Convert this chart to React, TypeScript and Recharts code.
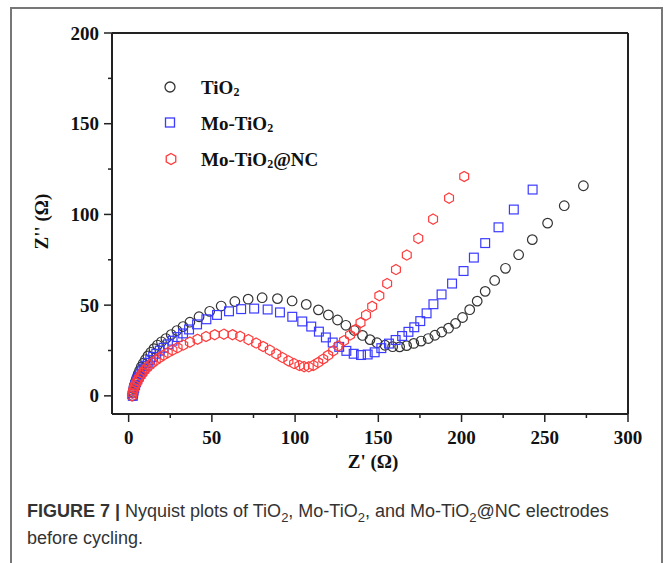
import { ScatterChart, Scatter, XAxis, YAxis, ReferenceLine } from "recharts";

// Nyquist data (Z' and Z'' in ohm)
const tio2Re = [
  2.5, 2.7, 3.1, 3.6, 4.2, 4.9, 5.7, 6.6, 7.6, 8.8, 10.1, 11.6, 13.3, 15.2,
  17.3, 19.7, 22.4, 25.6, 29.0, 32.7, 36.8, 42.3, 48.7, 55.6, 63.8, 71.8, 80.2,
  89.4, 98.2, 106.7, 114.0, 120.0, 125.5, 130.5, 135.6, 140.5, 145.0, 149.2,
  154.0, 158.6, 162.8, 167.0, 171.3, 175.7, 180.0, 184.0, 188.1, 192.2, 196.4,
  200.6, 204.9, 209.4, 214.2, 219.9, 226.4, 234.3, 242.5, 251.7, 261.7, 273.2,
];
const tio2Im = [
  0, 2, 4, 6, 8, 10, 12, 14, 16, 18, 20, 22, 24, 26, 28, 29.8, 31.6, 33.8, 36.0,
  38.2, 40.6, 43.6, 46.6, 49.5, 52.0, 53.3, 54.1, 53.6, 52.3, 50.4, 47.4, 44.6,
  41.8, 38.9, 36.0, 33.3, 31.0, 29.3, 27.9, 27.1, 27.0, 27.7, 28.9, 30.2, 31.6,
  33.4, 35.2, 37.3, 39.9, 43.2, 47.5, 52.2, 57.6, 63.6, 70.3, 77.8, 86.1, 95.2,
  104.8, 115.8,
];

const moRe = [
  2.5, 2.7, 3.0, 3.4, 3.9, 4.5, 5.2, 6.0, 6.9, 7.9, 9.0, 10.2, 11.5, 13.0, 14.7,
  16.6, 18.7, 21.0, 23.6, 26.4, 29.4, 32.7, 36.3, 41.1, 46.7, 53.1, 60.3, 67.6,
  75.4, 83.5, 90.9, 98.3, 104.3, 109.7, 114.3, 118.5, 122.6, 126.5, 130.8,
  135.2, 139.6, 143.6, 147.8, 151.8, 156.4, 160.4, 164.3, 168.1, 171.6, 175.2,
  179.0, 183.1, 188.0, 194.3, 201.2, 207.4, 214.2, 222.2, 231.4, 242.7,
];
const moIm = [
  0, 1.5, 3, 4.5, 6, 7.5, 9, 10.5, 12, 13.5, 15, 16.6, 18.2, 19.8, 21.5, 23.2,
  24.9, 26.5, 28.4, 30.4, 32.4, 34.4, 36.6, 39.4, 42.2, 44.6, 46.6, 47.8, 48.1,
  47.6, 46.0, 43.6, 41.0, 38.2, 35.4, 32.2, 29.4, 27.0, 24.8, 23.2, 22.5, 22.8,
  24.0, 26.3, 28.8, 30.8, 33.0, 35.3, 37.8, 41.2, 45.5, 50.5, 55.9, 61.9, 68.8,
  76.2, 84.2, 92.9, 102.7, 113.7,
];

const ncRe = [
  2.0, 2.3, 2.7, 3.2, 3.8, 4.5, 5.3, 6.2, 7.2, 8.3, 9.5, 10.9, 12.5, 14.3, 16.3,
  18.5, 20.9, 23.5, 26.3, 29.4, 32.8, 36.8, 41.4, 46.5, 51.7, 57.2, 62.4, 67.0,
  72.0, 76.6, 80.8, 84.8, 88.7, 92.4, 96.0, 99.4, 102.6, 105.4, 108.2, 111.0,
  113.9, 116.9, 119.9, 122.9, 126.0, 129.4, 133.0, 136.4, 139.3, 142.6, 146.3,
  150.6, 155.3, 160.6, 167.1, 174.0, 182.9, 192.5, 201.6,
];
const ncIm = [
  0, 1.4, 2.8, 4.2, 5.6, 7, 8.4, 9.8, 11.2, 12.6, 14, 15.4, 16.8, 18.2, 19.6, 21,
  22.4, 23.8, 25.2, 26.6, 28.0, 29.6, 31.2, 32.7, 33.7, 34.0, 33.7, 32.8, 31.0,
  29.1, 27.2, 25.2, 23.1, 21.1, 19.3, 17.8, 16.7, 16.1, 16.0, 16.8, 18.4, 20.3,
  22.4, 24.8, 27.5, 30.4, 33.5, 36.6, 40.3, 44.5, 49.3, 55.2, 61.9, 69.6, 77.6,
  86.8, 97.4, 109.0, 120.9,
];

const xTicks = [0, 25, 50, 75, 100, 125, 150, 175, 200, 225, 250, 275, 300];
const yTicks = [0, 25, 50, 75, 100, 125, 150, 175, 200];

const toPoints = (re: number[], im: number[]) =>
  re.map((x, i) => ({ x, y: im[i] }));

const SERIF = '"Liberation Serif", "Times New Roman", serif';
const SANS = '"Liberation Sans", Arial, sans-serif';
const AXIS = "#222";
const BLACK = "#333";
const BLUE = "#3b3bff";
const RED = "#ff3b3b";

function hexPath(cx: number, cy: number, r: number) {
  const pts = [-90, -30, 30, 90, 150, 210].map((a) => {
    const t = (a * Math.PI) / 180;
    return `${(cx + r * Math.cos(t)).toFixed(2)},${(cy + r * Math.sin(t)).toFixed(2)}`;
  });
  return `M${pts.join("L")}Z`;
}

function CircleMark({ cx, cy }: any) {
  return <circle cx={cx} cy={cy} r={4.8} fill="none" stroke={BLACK} strokeWidth={1.2} />;
}

function SquareMark({ cx, cy }: any) {
  return (
    <rect x={cx - 4.4} y={cy - 4.4} width={8.8} height={8.8} fill="none" stroke={BLUE} strokeWidth={1.2} />
  );
}

function HexMark({ cx, cy }: any) {
  return <path d={hexPath(cx, cy, 5.1)} fill="none" stroke={RED} strokeWidth={1.2} />;
}

function XTick({ x, y, payload }: any) {
  const major = payload.value % 50 === 0;
  return (
    <g>
      <line x1={x} x2={x} y1={y} y2={y + (major ? 8 : 4)} stroke={AXIS} strokeWidth={1.5} />
      {major && (
        <text x={x} y={y + 30} textAnchor="middle" fontFamily={SERIF} fontWeight="bold" fontSize={19} fill="#111">
          {payload.value}
        </text>
      )}
    </g>
  );
}

function YTick({ x, y, payload }: any) {
  const major = payload.value % 50 === 0;
  return (
    <g>
      <line x1={x - (major ? 8 : 4)} x2={x} y1={y} y2={y} stroke={AXIS} strokeWidth={1.5} />
      {major && (
        <text x={x - 13} y={y + 6.5} textAnchor="end" fontFamily={SERIF} fontWeight="bold" fontSize={19} fill="#111">
          {payload.value}
        </text>
      )}
    </g>
  );
}

function XTitle({ viewBox }: any) {
  return (
    <text x={viewBox.x + viewBox.width / 2 + 3} y={viewBox.y + 54} textAnchor="middle" fontFamily={SERIF} fontWeight="bold" fontSize={19} fill="#111">
      Z' (Ω)
    </text>
  );
}

function YTitle({ viewBox }: any) {
  const cx = viewBox.x - 4;
  const cy = viewBox.y + viewBox.height / 2 - 2;
  return (
    <text x={cx} y={cy} transform={`rotate(-90, ${cx}, ${cy})`} textAnchor="middle" fontFamily={SERIF} fontWeight="bold" fontSize={19} fill="#111">
      Z'' (Ω)
    </text>
  );
}

function Sub2() {
  return (
    <tspan fontSize={12} dy={2}>
      2
    </tspan>
  );
}

function Legend() {
  const text = { fontFamily: SERIF, fontWeight: "bold" as const, fontSize: 19, fill: "#111" };
  return (
    <svg width={667} height={563} style={{ position: "absolute", left: 0, top: 0, pointerEvents: "none" }}>
      <circle cx={170} cy={87} r={5} fill="none" stroke={BLACK} strokeWidth={1.3} />
      <text x={201} y={94} {...text}>
        TiO<Sub2 />
      </text>
      <rect x={165.5} y={118} width={9} height={9} fill="none" stroke={BLUE} strokeWidth={1.3} />
      <text x={201} y={130} {...text}>
        Mo-TiO<Sub2 />
      </text>
      <path d={hexPath(171, 159, 5.5)} fill="none" stroke={RED} strokeWidth={1.3} />
      <text x={201} y={166} {...text}>
        Mo-TiO<Sub2 />
        <tspan dy={-2}>@NC</tspan>
      </text>
    </svg>
  );
}

export default function App() {
  return (
    <div style={{ position: "absolute", left: 0, top: 0, width: 667, height: 563, background: "#fff", overflow: "hidden" }}>
      <div style={{ position: "absolute", left: 10, top: 7, width: 649, height: 600, border: "2px solid #777" }} />
      <div style={{ position: "absolute", left: 0, top: 0 }}>
        <ScatterChart width={667} height={500} margin={{ top: 33, right: 39, bottom: 26, left: 52 }}>
          <XAxis
            type="number"
            dataKey="x"
            domain={[-10, 300]}
            ticks={xTicks}
            interval={0}
            height={60}
            tickSize={0}
            tickMargin={0}
            tickLine={false}
            tick={<XTick />}
            axisLine={{ stroke: AXIS, strokeWidth: 2 }}
            label={<XTitle />}
          />
          <YAxis
            type="number"
            dataKey="y"
            domain={[-10, 200]}
            ticks={yTicks}
            interval={0}
            width={60}
            tickSize={0}
            tickMargin={0}
            tickLine={false}
            tick={<YTick />}
            axisLine={{ stroke: AXIS, strokeWidth: 2 }}
            label={<YTitle />}
          />
          <ReferenceLine y={200} stroke={AXIS} strokeWidth={2} />
          <ReferenceLine x={300} stroke={AXIS} strokeWidth={2} />
          <Scatter name="TiO2" data={toPoints(tio2Re, tio2Im)} shape={<CircleMark />} isAnimationActive={false} />
          <Scatter name="Mo-TiO2" data={toPoints(moRe, moIm)} shape={<SquareMark />} isAnimationActive={false} />
          <Scatter name="Mo-TiO2@NC" data={toPoints(ncRe, ncIm)} shape={<HexMark />} isAnimationActive={false} />
        </ScatterChart>
      </div>
      <Legend />
      <div
        style={{
          position: "absolute",
          left: 27,
          top: 498,
          fontFamily: SANS,
          fontSize: 18,
          lineHeight: "27px",
          color: "#333",
          whiteSpace: "nowrap",
        }}
      >
        <b>FIGURE 7 | </b>Nyquist plots of TiO<sub style={{ fontSize: 13, lineHeight: 0 }}>2</sub>, Mo-TiO
        <sub style={{ fontSize: 13, lineHeight: 0 }}>2</sub>, and Mo-TiO<sub style={{ fontSize: 13, lineHeight: 0 }}>2</sub>@NC electrodes
        <br />
        before cycling.
      </div>
    </div>
  );
}
